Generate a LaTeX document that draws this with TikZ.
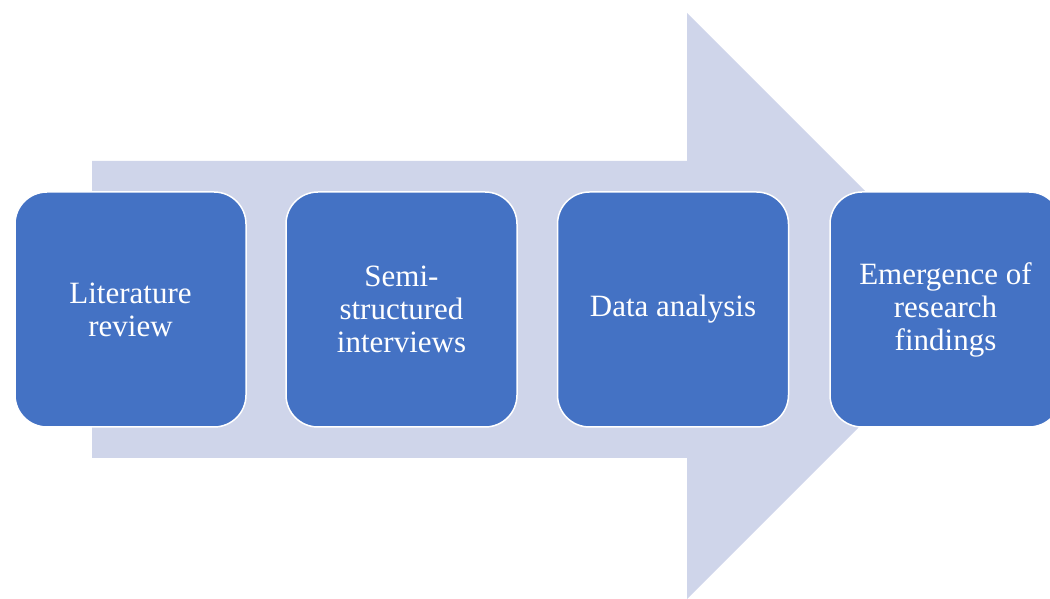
\documentclass[tikz,border=0pt]{standalone}
\usepackage{fontspec}
\setmainfont{Liberation Serif}
\definecolor{stageblue}{HTML}{4472C4}
\definecolor{arrowgrey}{HTML}{CFD5EA}
\begin{document}
\begin{tikzpicture}[line join=bevel,
  stage/.style={draw=white,line width=1.5bp,fill=stageblue,rounded corners=32bp,
    minimum width=231bp,minimum height=235bp,inner sep=0bp,text=white,align=center,
    font=\fontsize{31bp}{33bp}\selectfont}]
\useasboundingbox (0bp,0bp) rectangle (1050bp,599bp);
\clip (0bp,0bp) rectangle (1050bp,599bp);
%%
\fill [arrowgrey] (92bp,141bp) -- (92bp,438bp) -- (687bp,438bp) -- (687bp,586bp)
  -- (980bp,293bp) -- (687bp,0bp) -- (687bp,141bp) -- cycle;
  \node (node_0) at (130.5bp,289.5bp) [stage] {Literature\\review};
  \node (node_1) at (401.5bp,289.5bp) [stage] {Semi-\\structured\\interviews};
  \node (node_2) at (673.0bp,289.5bp) [stage] {Data analysis};
  \node (node_3) at (945.5bp,289.5bp) [stage] {Emergence of\\research\\findings};
%
\end{tikzpicture}
\end{document}
